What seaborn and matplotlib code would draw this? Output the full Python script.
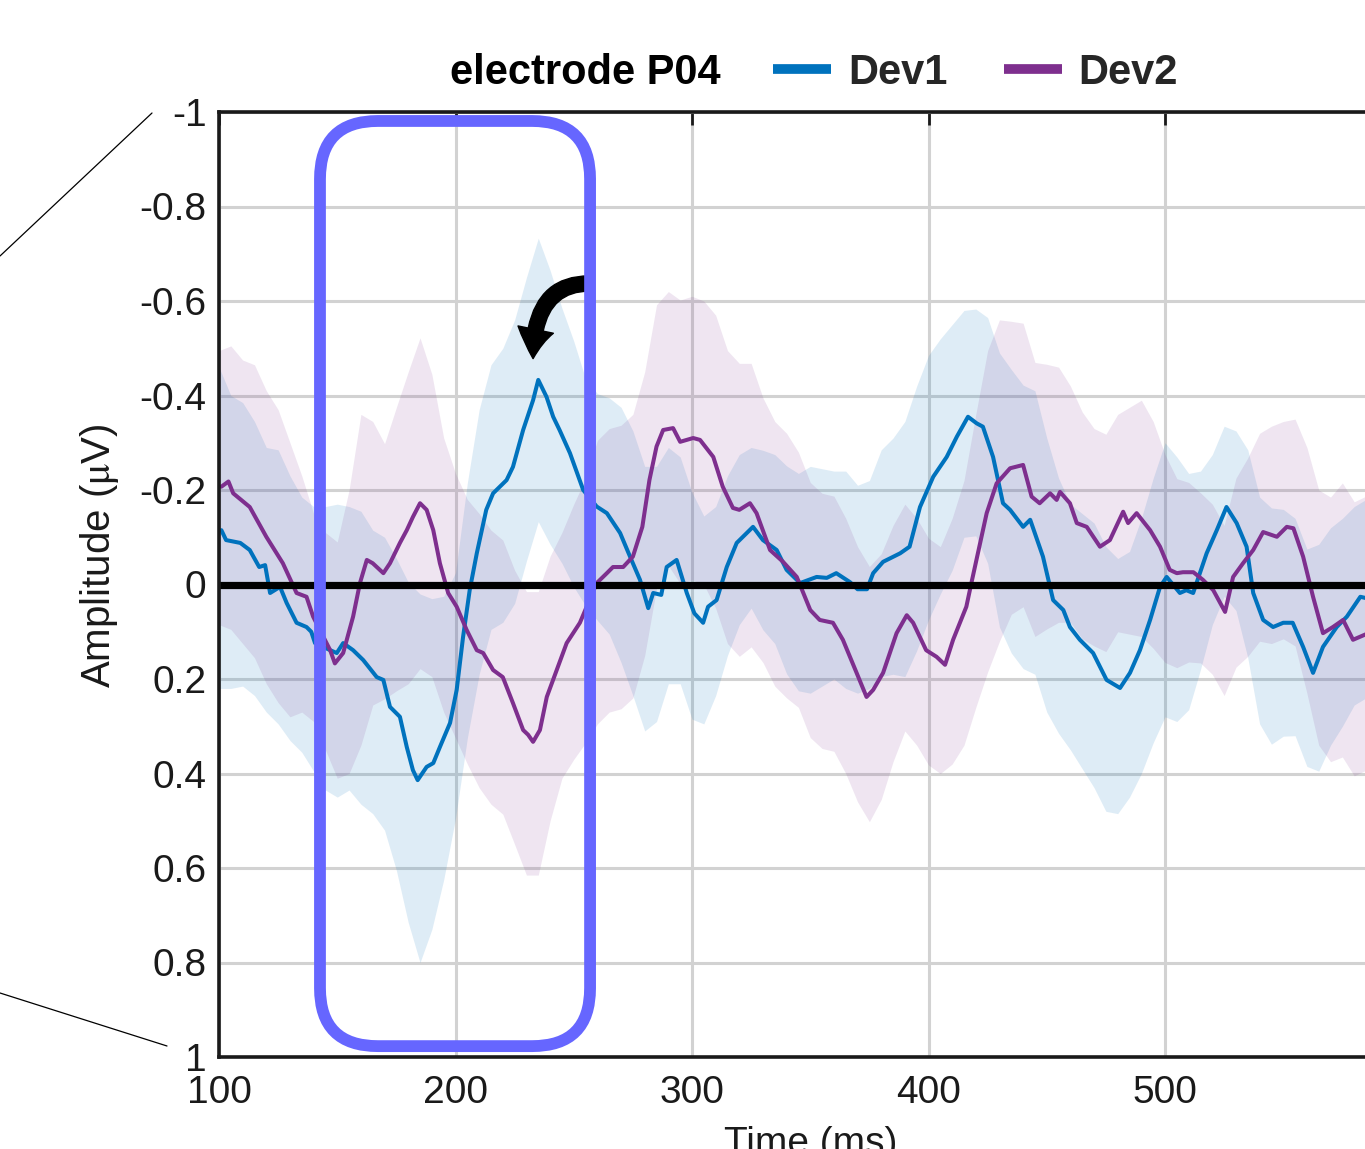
from __future__ import annotations

import matplotlib

matplotlib.use("Agg")
import matplotlib.pyplot as plt
import matplotlib.transforms as mtransforms
import numpy as np
import pandas as pd
import seaborn as sns
from matplotlib.lines import Line2D
from matplotlib.patches import FancyArrowPatch, FancyBboxPatch


# Dev1 grand-average trace (time in ms, amplitude in µV)
DEV1_T = [
    101, 103, 109, 113, 117, 119.5, 121.6, 125.8, 128.6, 132.8, 137, 139, 140.6, 147, 149.8,
    152.5, 156.7, 161, 166.7, 169.5, 172.3, 176.5, 179.4, 182, 184, 187.8, 190.6, 193.4, 197.7,
    200.5, 203.2, 206, 209, 213, 215.9, 221.6, 224.3, 228.6, 232.8, 235, 238.5, 241.3, 244,
    248.4, 254, 259.7, 264, 269.6, 273.8, 278, 281.5, 283.6, 287, 289.3, 293.5, 297.8, 301,
    304.7, 306.8, 310.4, 314.7, 318.9, 325.8, 330, 335.8, 340, 345.7, 352.7, 357, 361, 366.8,
    370, 374, 376.6, 380.8, 388, 392, 396.4, 402, 407.7, 412, 416.7, 420.4, 423, 427.3, 431.5,
    434.5, 440, 443, 448.4, 452.7, 457, 459.8, 464, 469.6, 475.3, 481, 485.2, 489.4, 493.7,
    497.9, 500.7, 506.3, 509, 511.9, 517.6, 521.9, 526, 530.3, 534.5, 537.3, 541.5, 545.7, 550,
    554, 558.4, 562.6, 566.8, 572.6, 576.9, 582.6, 586,
]
DEV1_V = [
    -0.115, -0.094, -0.088, -0.073, -0.037, -0.041, 0.018, 0.005, 0.039, 0.081, 0.09, 0.10,
    0.124, 0.139, 0.145, 0.124, 0.139, 0.16, 0.196, 0.202, 0.259, 0.28, 0.344, 0.393, 0.414,
    0.386, 0.378, 0.344, 0.293, 0.223, 0.111, 0.012, -0.066, -0.158, -0.193, -0.221, -0.249,
    -0.327, -0.39, -0.433, -0.397, -0.355, -0.327, -0.278, -0.2, -0.165, -0.151, -0.109, -0.059,
    -0.01, 0.05, 0.018, 0.022, -0.037, -0.052, 0.018, 0.061, 0.081, 0.047, 0.033, -0.037,
    -0.088, -0.122, -0.094, -0.073, -0.031, -0.003, -0.016, -0.014, -0.024, -0.005, 0.01, 0.01,
    -0.024, -0.048, -0.066, -0.08, -0.164, -0.228, -0.27, -0.313, -0.355, -0.341, -0.334,
    -0.27, -0.172, -0.158, -0.122, -0.137, -0.059, 0.033, 0.054, 0.09, 0.117, 0.145, 0.202,
    0.219, 0.187, 0.139, 0.075, 0.005, -0.016, 0.018, 0.012, 0.018, -0.066, -0.115, -0.164,
    -0.13, -0.08, 0.018, 0.075, 0.09, 0.081, 0.081, 0.132, 0.187, 0.132, 0.09, 0.068, 0.026,
    0.03,
]

# Dev2 grand-average trace
DEV2_T = [
    101, 104, 106, 113, 120, 127, 132.8, 137, 139.8, 147, 149, 152.5, 156.7, 159.6, 162.5, 165,
    169.5, 172.3, 176.5, 179.4, 182, 185, 187.8, 190.6, 193.4, 196.9, 200.5, 204.7, 209, 211.7,
    215.9, 220, 224.3, 228.6, 230.7, 232.8, 235.7, 238.6, 242.8, 247, 252.6, 259.7, 264, 266.6,
    270.9, 275, 279, 282, 285, 287.8, 292, 295, 300.5, 303.4, 309, 313, 317.3, 320, 324.5,
    327.3, 333, 338.5, 344.3, 350, 354, 359.6, 363.8, 369.6, 373.8, 376.6, 380.8, 386.5, 390.8,
    393.5, 399, 403.4, 407, 410.4, 416, 418, 420.4, 424.6, 428.8, 434.5, 440, 443.6, 447, 451.4,
    454.2, 455.6, 459.8, 462.7, 466.9, 472.5, 476.7, 482.3, 484.4, 488, 493.7, 497.9, 502, 505,
    507.6, 512, 516, 520.4, 525.4, 528.8, 533, 537.3, 541.5, 547.3, 551.5, 554.3, 558.4, 562.6,
    566.8, 571, 575.3, 579.5, 586,
]
DEV2_V = [
    -0.207, -0.218, -0.193, -0.164, -0.101, -0.045, 0.018, 0.026, 0.068, 0.139, 0.167, 0.145,
    0.068, -0.003, -0.052, -0.045, -0.024, -0.045, -0.088, -0.115, -0.143, -0.172, -0.158,
    -0.115, -0.045, 0.018, 0.047, 0.096, 0.139, 0.145, 0.181, 0.196, 0.251, 0.308, 0.318,
    0.333, 0.308, 0.238, 0.181, 0.124, 0.081, -0.003, -0.024, -0.037, -0.037, -0.059, -0.122,
    -0.221, -0.292, -0.327, -0.331, -0.302, -0.31, -0.306, -0.27, -0.207, -0.162, -0.158,
    -0.172, -0.151, -0.073, -0.048, -0.016, 0.054, 0.075, 0.081, 0.117, 0.187, 0.238, 0.223,
    0.187, 0.103, 0.065, 0.081, 0.139, 0.153, 0.17, 0.117, 0.047, 0.0, -0.055, -0.151, -0.214,
    -0.246, -0.253, -0.186, -0.172, -0.193, -0.179, -0.196, -0.172, -0.13, -0.122, -0.08,
    -0.094, -0.154, -0.13, -0.151, -0.115, -0.08, -0.031, -0.024, -0.026, -0.026, -0.01,
    0.012, 0.058, -0.016, -0.045, -0.073, -0.111, -0.101, -0.122, -0.119, -0.059, 0.026,
    0.103, 0.09, 0.075, 0.117, 0.103,
]

# shaded error bands: centre and half width, sampled every 5 ms
BAND_T = [
    100, 105, 110, 115, 120, 125, 130, 135, 140, 145,
    150, 155, 160, 165, 170, 175, 180, 185, 190, 195,
    200, 205, 210, 215, 220, 225, 230, 235, 240, 245,
    250, 255, 260, 265, 270, 275, 280, 285, 290, 295,
    300, 305, 310, 315, 320, 325, 330, 335, 340, 345,
    350, 355, 360, 365, 370, 375, 380, 385, 390, 395,
    400, 405, 410, 415, 420, 425, 430, 435, 440, 445,
    450, 455, 460, 465, 470, 475, 480, 485, 490, 495,
    500, 505, 510, 515, 520, 525, 530, 535, 540, 545,
    550, 555, 560, 565, 570, 575, 580, 585,
]
DEV1_BAND_MID = [
    -0.12, -0.09, -0.085, -0.055, -0.01, 0.005, 0.05, 0.085, 0.115, 0.135,
    0.14, 0.135, 0.155, 0.185, 0.21, 0.275, 0.355, 0.41, 0.38, 0.325,
    0.235, 0.055, -0.09, -0.185, -0.21, -0.26, -0.35, -0.433, -0.375, -0.315,
    -0.255, -0.195, -0.164, -0.145, -0.105, -0.045, 0.03, 0.02, -0.04, -0.03,
    0.045, 0.075, 0.035, -0.04, -0.095, -0.12, -0.094, -0.075, -0.031, -0.005,
    -0.01, -0.015, -0.02, -0.01, 0.01, 0.0, -0.045, -0.06, -0.075, -0.14,
    -0.205, -0.25, -0.29, -0.34, -0.343, -0.305, -0.2, -0.155, -0.122, -0.11,
    -0.02, 0.045, 0.09, 0.12, 0.15, 0.2, 0.215, 0.19, 0.13, 0.055,
    -0.01, 0.01, 0.015, -0.03, -0.095, -0.155, -0.135, -0.065, 0.055, 0.088,
    0.081, 0.09, 0.155, 0.155, 0.11, 0.08, 0.045, 0.03,
]
DEV1_BAND_HALF = [
    0.34, 0.31, 0.30, 0.29, 0.28, 0.29, 0.28, 0.27, 0.28, 0.30,
    0.31, 0.30, 0.31, 0.30, 0.31, 0.33, 0.36, 0.39, 0.35, 0.30,
    0.26, 0.27, 0.28, 0.28, 0.29, 0.30, 0.30, 0.30, 0.29, 0.27,
    0.26, 0.24, 0.24, 0.25, 0.27, 0.28, 0.28, 0.27, 0.25, 0.24,
    0.24, 0.22, 0.20, 0.19, 0.18, 0.17, 0.19, 0.20, 0.22, 0.23,
    0.24, 0.23, 0.22, 0.23, 0.22, 0.22, 0.24, 0.25, 0.27, 0.28,
    0.28, 0.27, 0.26, 0.24, 0.24, 0.26, 0.29, 0.30, 0.30, 0.30,
    0.29, 0.27, 0.26, 0.27, 0.28, 0.28, 0.27, 0.26, 0.27, 0.28,
    0.29, 0.28, 0.25, 0.21, 0.18, 0.18, 0.19, 0.22, 0.24, 0.25,
    0.24, 0.23, 0.23, 0.24, 0.23, 0.22, 0.21, 0.21,
]
DEV2_BAND_MID = [
    -0.205, -0.205, -0.175, -0.155, -0.10, -0.06, -0.01, 0.02, 0.07, 0.12,
    0.16, 0.10, -0.01, -0.045, -0.028, -0.075, -0.12, -0.172, -0.125, -0.02,
    0.045, 0.10, 0.14, 0.175, 0.196, 0.26, 0.315, 0.315, 0.22, 0.15,
    0.10, 0.055, -0.005, -0.03, -0.037, -0.06, -0.15, -0.292, -0.33, -0.302,
    -0.31, -0.30, -0.26, -0.185, -0.158, -0.168, -0.115, -0.065, -0.04, -0.01,
    0.054, 0.077, 0.083, 0.13, 0.19, 0.232, 0.195, 0.125, 0.07, 0.10,
    0.142, 0.16, 0.12, 0.06, -0.05, -0.155, -0.22, -0.247, -0.253, -0.18,
    -0.186, -0.19, -0.17, -0.125, -0.10, -0.088, -0.13, -0.135, -0.14, -0.105,
    -0.055, -0.024, -0.026, -0.014, 0.01, 0.055, -0.025, -0.058, -0.10, -0.105,
    -0.115, -0.11, -0.03, 0.07, 0.095, 0.075, 0.115, 0.103,
]
DEV2_BAND_HALF = [
    0.29, 0.30, 0.30, 0.31, 0.31, 0.31, 0.29, 0.25, 0.22, 0.23,
    0.25, 0.30, 0.35, 0.30, 0.27, 0.30, 0.33, 0.35, 0.32, 0.29,
    0.28, 0.28, 0.29, 0.29, 0.29, 0.29, 0.30, 0.30, 0.28, 0.26,
    0.27, 0.28, 0.30, 0.30, 0.30, 0.30, 0.30, 0.30, 0.29, 0.30,
    0.30, 0.30, 0.31, 0.31, 0.31, 0.30, 0.28, 0.28, 0.28, 0.27,
    0.27, 0.27, 0.27, 0.27, 0.27, 0.27, 0.26, 0.25, 0.24, 0.24,
    0.24, 0.24, 0.26, 0.28, 0.31, 0.34, 0.34, 0.31, 0.30, 0.29,
    0.28, 0.27, 0.25, 0.24, 0.23, 0.23, 0.23, 0.24, 0.25, 0.24,
    0.22, 0.20, 0.19, 0.18, 0.18, 0.18, 0.20, 0.21, 0.22, 0.23,
    0.23, 0.24, 0.26, 0.27, 0.28, 0.29, 0.29, 0.29,
]

X_TICKS = [100, 200, 300, 400, 500]
X_TICK_LABELS = ["100", "200", "300", "400", "500"]
Y_TICKS = [-1, -0.8, -0.6, -0.4, -0.2, 0, 0.2, 0.4, 0.6, 0.8, 1]
Y_TICK_LABELS = ["-1", "-0.8", "-0.6", "-0.4", "-0.2", "0", "0.2", "0.4", "0.6", "0.8", "1"]

# highlighted window (ms / µV) and the arrow pointing at the Dev1 peak
WINDOW_T = (142.7, 256.9)
WINDOW_V = (-0.981, 0.977)
ARROW_FROM = (256.5, -0.637)
ARROW_TO = (232.8, -0.478)

BLUE = "#0072BD"
PURPLE = "#7E2F8E"
WINDOW_COLOR = "#6666FF"
TEXT_COLOR = "#1a1a1a"

W_PX, H_PX, DPI = 1365, 1149, 100


def draw(out_path: str = "out.png") -> None:
    sns.set_style("white")
    plt.rcParams["font.family"] = ["Liberation Sans", "DejaVu Sans"]
    plt.rcParams["mathtext.fontset"] = "stix"

    fig = plt.figure(figsize=(W_PX / DPI, H_PX / DPI), dpi=DPI)
    # axes run on to 600 ms, past the right edge of the picture
    ax = fig.add_axes([219 / W_PX, 92 / H_PX, (1401.5 - 219) / W_PX, (1057 - 112) / H_PX])

    bands = pd.DataFrame({
        "t": BAND_T,
        "d1_lo": np.array(DEV1_BAND_MID) - np.array(DEV1_BAND_HALF),
        "d1_hi": np.array(DEV1_BAND_MID) + np.array(DEV1_BAND_HALF),
        "d2_lo": np.array(DEV2_BAND_MID) - np.array(DEV2_BAND_HALF),
        "d2_hi": np.array(DEV2_BAND_MID) + np.array(DEV2_BAND_HALF),
    })
    ax.fill_between(bands["t"], bands["d1_lo"], bands["d1_hi"], color=BLUE, alpha=0.13,
                    linewidth=0, zorder=1)
    ax.fill_between(bands["t"], bands["d2_lo"], bands["d2_hi"], color=PURPLE, alpha=0.12,
                    linewidth=0, zorder=1)

    sns.lineplot(x=DEV1_T, y=DEV1_V, ax=ax, color=BLUE, linewidth=2.9, zorder=3)
    sns.lineplot(x=DEV2_T, y=DEV2_V, ax=ax, color=PURPLE, linewidth=2.9, zorder=3)
    ax.axhline(0, color="black", linewidth=5.2, zorder=4)

    ax.set_xlim(100, 600)
    ax.set_ylim(1, -1)
    ax.set_xticks(X_TICKS)
    ax.set_xticklabels(X_TICK_LABELS)
    ax.set_yticks(Y_TICKS)
    ax.set_yticklabels(Y_TICK_LABELS)
    ax.tick_params(direction="in", length=9, width=2, colors=TEXT_COLOR, labelsize=28,
                   top=True, right=True)
    ax.tick_params(axis="x", pad=13)
    ax.tick_params(axis="y", pad=9)
    ax.grid(True, color="#d2d2d2", linewidth=2.2)
    ax.set_axisbelow(True)
    for spine in ax.spines.values():
        spine.set_linewidth(2.6)
        spine.set_color(TEXT_COLOR)
        spine.set_zorder(6)

    ax.set_xlabel("Time (ms)", fontsize=28, color=TEXT_COLOR)
    ax.xaxis.set_label_coords(0.5, -0.073)
    ax.set_ylabel(r"Amplitude ($\mathrm{\mu}$V)", fontsize=29, color=TEXT_COLOR)
    ax.yaxis.set_label_coords(-0.083, 0.53)

    # rounded window drawn in pixel space so the corners stay circular
    (x0, y0), (x1, y1) = ax.transData.transform([(WINDOW_T[0], WINDOW_V[1]), (WINDOW_T[1], WINDOW_V[0])])
    window = FancyBboxPatch((x0, y0), x1 - x0, y1 - y0, boxstyle="round,pad=0,rounding_size=58",
                            transform=mtransforms.IdentityTransform(), facecolor="none",
                            edgecolor=WINDOW_COLOR, linewidth=8.5, clip_on=False, zorder=5)
    ax.add_artist(window)

    arrow = FancyArrowPatch(ARROW_FROM, ARROW_TO, transform=ax.transData,
                            connectionstyle="angle3,angleA=0,angleB=90",
                            arrowstyle="simple,tail_width=0.55,head_width=1.3,head_length=1.05",
                            mutation_scale=20, color="black", shrinkA=0, shrinkB=0, zorder=4.5)
    ax.add_patch(arrow)

    fig.text(585 / W_PX, 1 - 73 / H_PX, "electrode P04", fontsize=30, fontweight="bold",
             ha="center", va="center", color="black")
    handles = [Line2D([], [], color=BLUE, linewidth=7, solid_capstyle="butt"),
               Line2D([], [], color=PURPLE, linewidth=7, solid_capstyle="butt")]
    fig.legend(handles, ["Dev1", "Dev2"], loc="center left", bbox_to_anchor=(773 / W_PX, 1 - 73 / H_PX),
               ncol=2, frameon=False, borderpad=0, borderaxespad=0, handlelength=1.4,
               handletextpad=0.4, columnspacing=1.35, prop={"size": 30, "weight": "bold"})

    # zoom lines coming from the neighbouring panel
    fig.add_artist(Line2D([152 / W_PX, 0], [1 - 113 / H_PX, 1 - 256 / H_PX], color="black", linewidth=0.9))
    fig.add_artist(Line2D([0, 167 / W_PX], [1 - 993 / H_PX, 1 - 1046 / H_PX], color="black", linewidth=0.9))

    fig.savefig(out_path, dpi=DPI)
    plt.close(fig)


def main() -> None:
    draw()


if __name__ == "__main__":
    main()
